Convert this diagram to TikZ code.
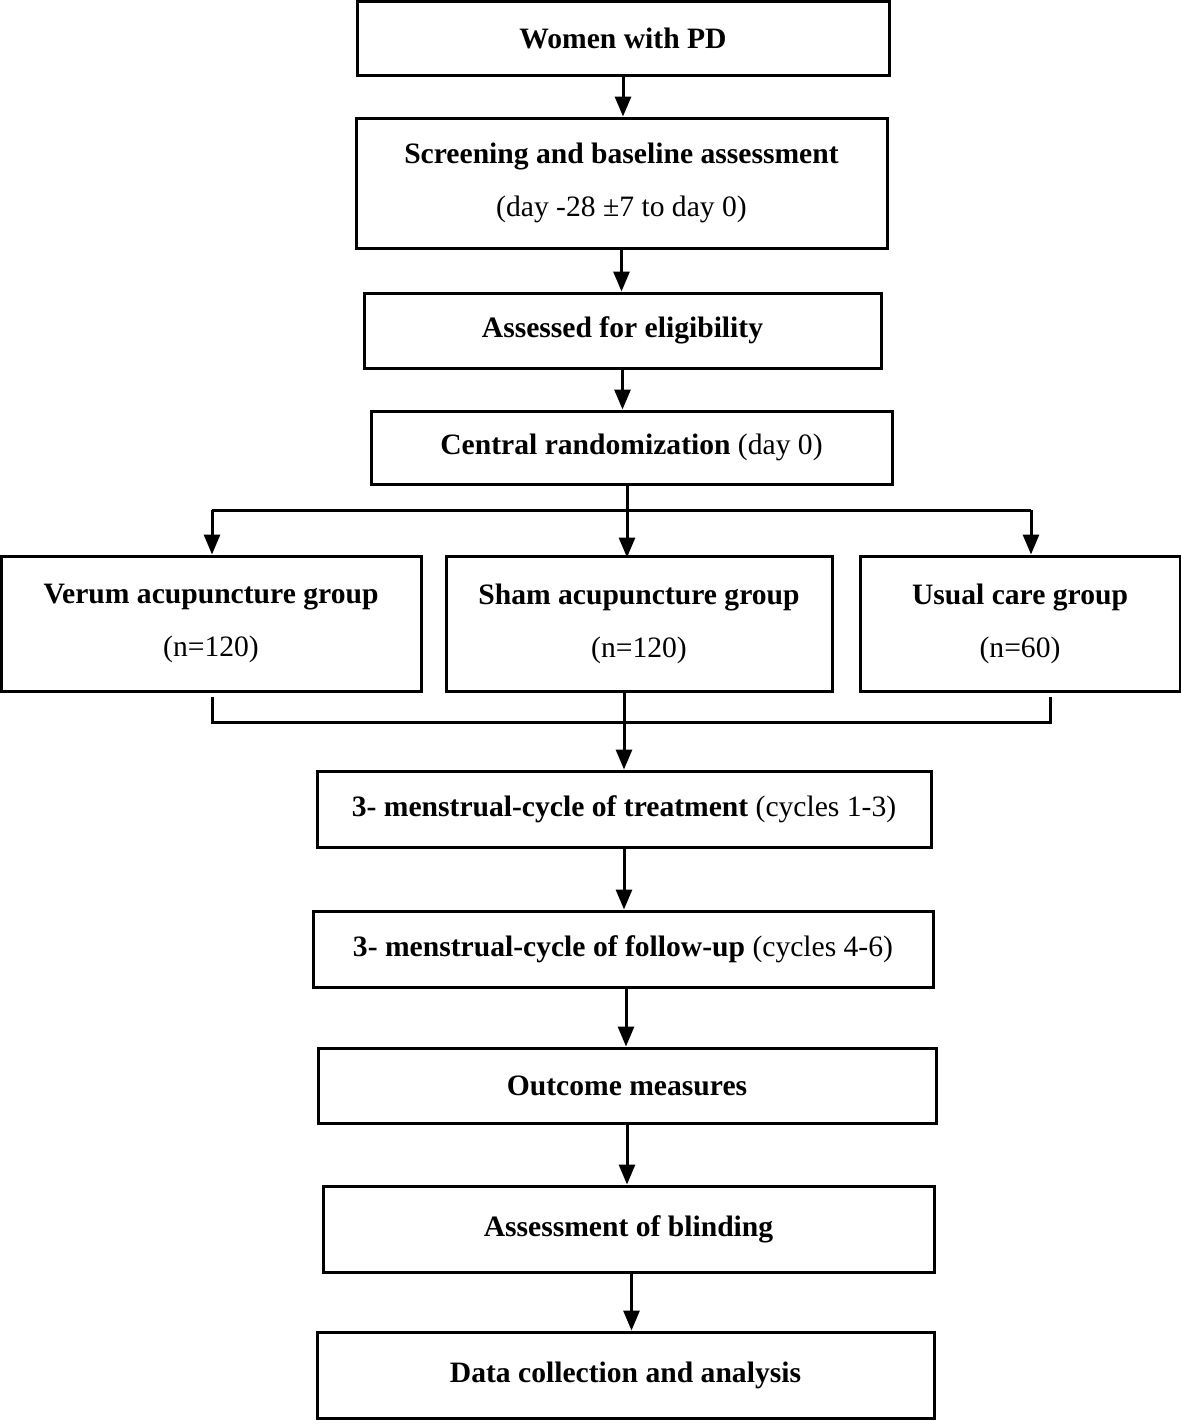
\documentclass[tikz,border=0pt]{standalone}
\usepackage{fontspec}
\setmainfont{Liberation Serif}
\usetikzlibrary{arrows.meta}

\begin{document}
\begin{tikzpicture}[x=0.5pt,y=-0.5pt,
  box/.style={draw, line width=1.5pt, align=center, inner sep=0pt,
    font=\fontsize{14.8}{26.5}\selectfont\bfseries},
  arr/.style={line width=1.5pt, -{Triangle[length=10pt,width=8pt]}},
  ln/.style={line width=1.5pt}]
\useasboundingbox (0,0) rectangle (1181,1420);
\node[box, minimum width=266pt, minimum height=37pt] (women) at (623,38) {Women with PD};
\node[box, minimum width=265.5pt, minimum height=65pt] (screen) at (621.5,183) {Screening and baseline assessment\\ \mdseries (day -28 ±7 to day 0)};
\node[box, minimum width=258.5pt, minimum height=37.5pt] (elig) at (622.5,330.5) {Assessed for eligibility};
\node[box, minimum width=260.5pt, minimum height=36.5pt] (rand) at (631.5,447.5) {Central randomization \mdseries(day 0)};
\node[box, minimum width=210pt, minimum height=67.5pt] (verum) at (211,623.5) {Verum acupuncture group\\ \mdseries (n=120)};
\node[box, minimum width=193pt, minimum height=67.5pt] (sham) at (639,623.5) {Sham acupuncture group\\ \mdseries (n=120)};
\node[box, minimum width=160pt, minimum height=67.5pt] (usual) at (1020,623.5) {Usual care group\\ \mdseries (n=60)};
\node[box, minimum width=307pt, minimum height=38pt] (treat) at (624,809) {3- menstrual-cycle of treatment \mdseries(cycles 1-3)};
\node[box, minimum width=310pt, minimum height=38pt] (follow) at (623,949) {3- menstrual-cycle of follow-up \mdseries(cycles 4-6)};
\node[box, minimum width=309pt, minimum height=37.5pt] (outcome) at (627,1085.5) {Outcome measures};
\node[box, minimum width=305.5pt, minimum height=43pt] (blind) at (628.5,1229) {Assessment of blinding};
\node[box, minimum width=308.5pt, minimum height=43pt] (data) at (625.5,1375) {Data collection and analysis};
\coordinate (sl) at (212,510);
\coordinate (sr) at (1031,510);
\coordinate (vl) at (212,697);
\coordinate (vr) at (1050,697);
\coordinate (jl) at (212,722);
\coordinate (jr) at (1050,722);
\draw[arr] (women.south) -- (women.south |- screen.north);
\draw[arr] (screen.south) -- (screen.south |- elig.north);
\draw[arr] (elig.south) -- (elig.south |- rand.north);
\draw[arr] (rand.south -| sl) ++(415,0) -- ++(0,72);
\draw[ln] (sl) -- (sr);
\draw[arr] (sl) -- (sl |- verum.north);
\draw[arr] (sr) -- (sr |- usual.north);
\draw[ln] (vl) -- (jl) -- (jr) -- (vr);
\draw[arr] (sham.south -| treat.north) -- (treat.north);
\draw[arr] (treat.south) -- (treat.south |- follow.north);
\draw[arr] ([xshift=1.5pt]follow.south) -- ([xshift=1.5pt]follow.south |- outcome.north);
\draw[arr] (outcome.south) -- (outcome.south |- blind.north);
\draw[arr] ([xshift=1.5pt]blind.south) -- ([xshift=1.5pt]blind.south |- data.north);
\end{tikzpicture}
\end{document}
